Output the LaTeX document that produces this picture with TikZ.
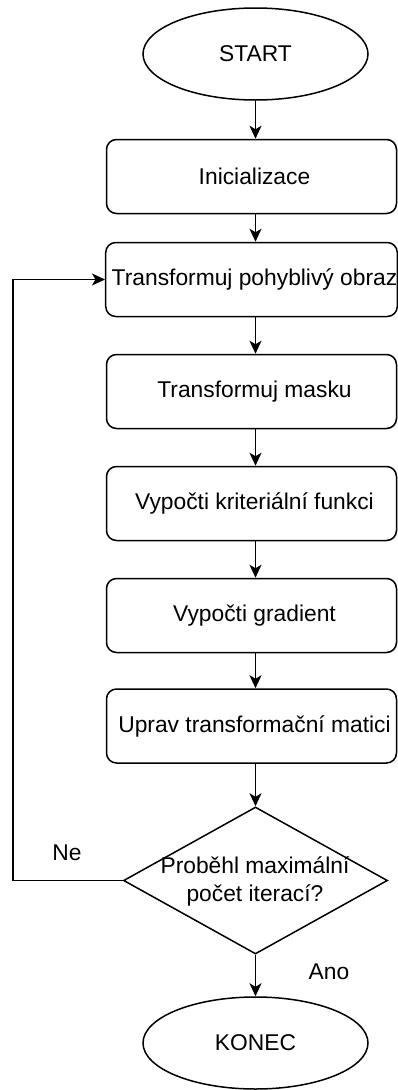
\documentclass[tikz,border=0pt]{standalone}
\usepackage{fontspec}
\setmainfont{Liberation Sans}
\usetikzlibrary{shapes.geometric,arrows.meta}
\begin{document}
\begin{tikzpicture}[x=1pt,y=-1pt,
  every node/.style={font=\fontsize{22.8}{28}\selectfont},
  line/.style={line width=1.6pt, black},
  arr/.style={line, -{Stealth[length=13pt,width=12pt,inset=3.5pt]}},
  term/.style={draw, line width=1.5pt, ellipse, minimum width=225pt, minimum height=92pt, inner sep=0pt},
  procbox/.style={draw, line width=1.5pt, rounded corners=10pt, minimum width=290pt, minimum height=74pt, inner sep=0pt, execute at begin node={\hspace*{6pt}}},
  decision/.style={draw, line width=1.5pt, diamond, minimum width=264pt, minimum height=147pt, inner sep=0pt},
  lbl/.style={inner sep=0pt}
]
\useasboundingbox (0,0) rectangle (398,1090);
\node[term] (start) at (255.5,54) {START};
\node[procbox] (init) at (251.5,176.5) {Inicializace};
\node[procbox] (tpo) at (251.5,279.5) {Transformuj pohyblivý obraz};
\node[procbox] (mask) at (251.5,391.5) {Transformuj masku};
\node[procbox] (krit) at (251.5,503.5) {Vypočti kriteriální funkci};
\node[procbox] (grad) at (251.5,615.5) {Vypočti gradient};
\node[procbox] (uprav) at (251.5,726) {Uprav transformační matici};
\node[decision] (dec) at (255.5,880.5) {};
\node[lbl, align=center] (dectext) at (255,881) {Proběhl maximální\\počet iterací?};
\node[term] (konec) at (255.5,1043) {KONEC};
\node[lbl] (ne) at (67,853) {Ne};
\node[lbl] (ano) at (329,972) {Ano};
\coordinate (lp) at (13,880.5);

\draw[arr] (start.south) -- (start.south |- init.north);
\draw[arr] (init.south -| start) -- (start |- tpo.north);
\draw[arr] (tpo.south -| start) -- (start |- mask.north);
\draw[arr] (mask.south -| start) -- (start |- krit.north);
\draw[arr] (krit.south -| start) -- (start |- grad.north);
\draw[arr] (grad.south -| start) -- (start |- uprav.north);
\draw[arr] (uprav.south -| dec) -- (dec.north);
\draw[arr] (dec.south) -- (dec.south |- konec.north);
\draw[arr] (dec.west) -- (lp) |- (tpo.west);
\end{tikzpicture}
\end{document}
